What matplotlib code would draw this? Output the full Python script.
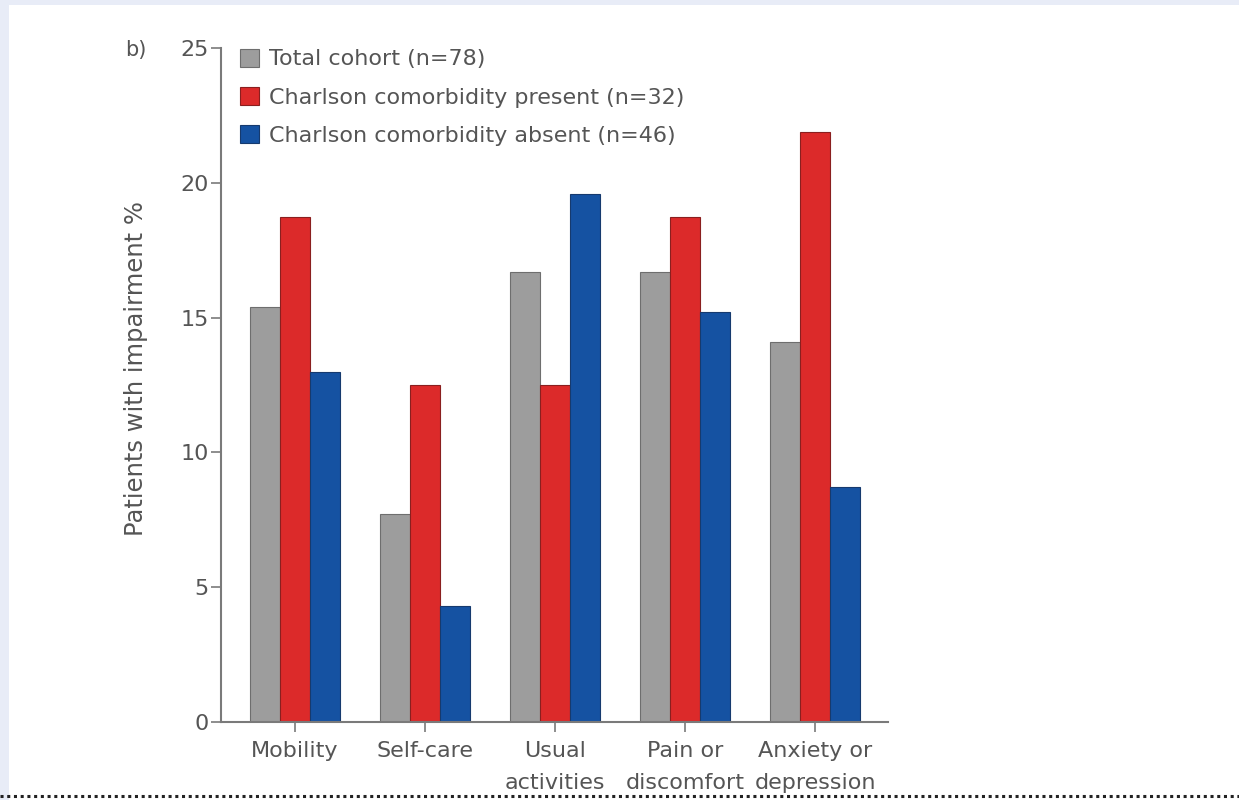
import matplotlib
matplotlib.use("Agg")
import matplotlib.pyplot as plt
from matplotlib.patches import Rectangle
from matplotlib.lines import Line2D
import numpy as np

plt.rcParams['font.family'] = ['DejaVu Sans']

categories = ["Mobility", "Self-care", "Usual\nactivities", "Pain or\ndiscomfort", "Anxiety or\ndepression"]
series_names = ["Total cohort (n=78)",
                "Charlson comorbidity present (n=32)",
                "Charlson comorbidity absent (n=46)"]
total_cohort = [15.4, 7.7, 16.7, 16.7, 14.1]
comorbidity_present = [18.75, 12.5, 12.5, 18.75, 21.9]
comorbidity_absent = [13.0, 4.3, 19.6, 15.2, 8.7]
y_ticks = [0, 5, 10, 15, 20, 25]

colors = ["#9d9d9d", "#dc2a2a", "#1552a2"]
edge_colors = ["#6e6e6e", "#8a1f1f", "#163a6e"]
text_color = "#555555"
axis_color = "#7a7a7a"

fig = plt.figure(figsize=(12.39, 8.0), dpi=100)
fig.patch.set_facecolor("#e8ecf7")

# white panel with dotted rule along its foot
fig.patches.append(Rectangle((9 / 1239, 0), 1 - 9 / 1239, 1 - 5 / 800,
                             transform=fig.transFigure, facecolor="white",
                             edgecolor="none", zorder=-10))
fig.lines.append(Line2D([0, 1], [1 - 796 / 800] * 2, transform=fig.transFigure,
                        color="#222222", linestyle=(0, (1, 1.2)), linewidth=2.2))

ax = fig.add_axes([221 / 1239, 1 - 722 / 800, (888 - 221) / 1239, (722 - 48) / 800])
ax.set_facecolor("none")
ax.set_zorder(5)

x = np.arange(len(categories))
w = 0.232
for i, (vals, name) in enumerate(zip([total_cohort, comorbidity_present, comorbidity_absent], series_names)):
    ax.bar(x + (i - 1) * w, vals, width=w, color=colors[i], edgecolor=edge_colors[i],
           linewidth=0.8, label=name, zorder=2)

ax.set_xlim(-0.57, 4.56)
ax.set_ylim(0, 25)
ax.set_yticks(y_ticks)
ax.set_xticks(x)
ax.set_xticklabels(categories, fontsize=16, color=text_color, linespacing=1.7)
ax.tick_params(axis='y', labelsize=16, colors=text_color, length=7, width=1.2, color=axis_color, pad=2)
ax.tick_params(axis='x', length=7, width=1.2, color=axis_color, pad=7)

for s in ["top", "right"]:
    ax.spines[s].set_visible(False)
for s in ["left", "bottom"]:
    ax.spines[s].set_color(axis_color)
    ax.spines[s].set_linewidth(1.5)

ax.set_ylabel("Patients with impairment %", fontsize=17.5, color=text_color)
ax.yaxis.set_label_coords(-0.109, 0.524)

fig.text(125 / 1239, 1 - 50 / 800, "b)", fontsize=15, color=text_color, ha="left", va="center")

leg = ax.legend(loc="upper left", bbox_to_anchor=(0.015, 1.012), frameon=False,
                fontsize=16, labelcolor=text_color, handlelength=0.85, handleheight=0.85,
                handletextpad=0.45, labelspacing=0.8, borderaxespad=0)

fig.savefig("out.png", dpi=100, facecolor=fig.get_facecolor())
